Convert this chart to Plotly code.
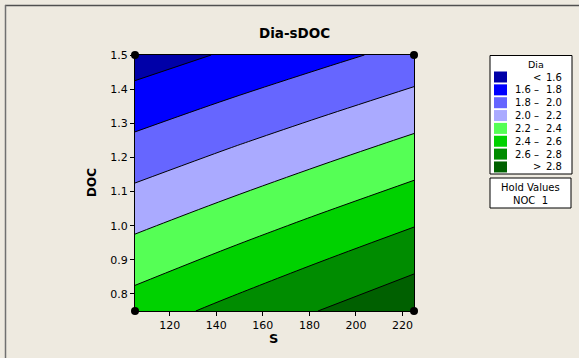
import plotly.graph_objects as go

# ---- data ----
S_vals = [105, 145, 185, 225]
DOC_vals = [0.75, 1.00, 1.25, 1.50]
Dia_vals = [
    [2.500, 2.653, 2.805, 2.958],   # DOC = 0.75
    [2.167, 2.309, 2.451, 2.594],   # DOC = 1.00
    [1.833, 1.966, 2.097, 2.229],   # DOC = 1.25
    [1.500, 1.622, 1.743, 1.865],   # DOC = 1.50
]
levels = [1.6, 1.8, 2.0, 2.2, 2.4, 2.6, 2.8]
band_colors = ["#0000A8", "#0000FF", "#6666FF", "#AAAAFF",
               "#55FF55", "#00D200", "#008C00", "#006000"]
legend_lo = ["", "1.6", "1.8", "2.0", "2.2", "2.4", "2.6", ""]
legend_mid = ["<", "–", "–", "–", "–", "–", "–", ">"]
legend_hi = ["1.6", "1.8", "2.0", "2.2", "2.4", "2.6", "2.8", "2.8"]
design_S = [105, 225, 105, 225]
design_DOC = [1.50, 1.50, 0.75, 0.75]
x_ticks = [120, 140, 160, 180, 200, 220]
y_ticks = [0.8, 0.9, 1.0, 1.1, 1.2, 1.3, 1.4, 1.5]

# ---- layout geometry (pixels) ----
W, H = 579, 358
L, R, T, B = 135, 414, 55, 311
FONT = "DejaVu Sans"
BG = "#EEEAE0"


def px(X):
    return (X - L) / (R - L)


def py(Y):
    return (B - Y) / (B - T)


fig = go.Figure()
fig.add_trace(go.Contour(
    x=S_vals, y=DOC_vals, z=Dia_vals,
    autocontour=False,
    contours=dict(start=levels[0], end=levels[-1],
                  size=round(levels[1] - levels[0], 3), coloring="fill"),
    colorscale=[[i / (len(band_colors) - 1), c] for i, c in enumerate(band_colors)],
    showscale=False,
    line=dict(color="black", width=1),
    hoverinfo="skip",
))
fig.add_trace(go.Scatter(
    x=design_S, y=design_DOC, mode="markers",
    marker=dict(color="black", size=8),
    cliponaxis=False, showlegend=False, hoverinfo="skip",
))

shapes = []
annotations = []

# frame of the picture
shapes.append(dict(type="line", xref="paper", yref="paper",
                   x0=px(5), x1=px(579), y0=py(5.5), y1=py(5.5),
                   line=dict(color="#505050", width=1.5)))
shapes.append(dict(type="line", xref="paper", yref="paper",
                   x0=px(5.5), x1=px(5.5), y0=py(5), y1=py(358),
                   line=dict(color="#707070", width=1.5)))

# legend box
shapes.append(dict(type="rect", xref="paper", yref="paper",
                   x0=px(490), x1=px(572), y0=py(55.5), y1=py(174),
                   line=dict(color="black", width=1), fillcolor="white"))
annotations.append(dict(text="Dia", xref="paper", yref="paper",
                        x=px(536), y=py(64), showarrow=False,
                        xanchor="center", yanchor="middle",
                        font=dict(family=FONT, size=9.5, color="black")))
row0, dy = 77, 12.85
for i, c in enumerate(band_colors):
    yc = row0 + i * dy
    shapes.append(dict(type="rect", xref="paper", yref="paper",
                       x0=px(494), x1=px(507), y0=py(yc - 5.5), y1=py(yc + 5.5),
                       line=dict(width=0), fillcolor=c))
    if legend_lo[i]:
        annotations.append(dict(text=legend_lo[i], xref="paper", yref="paper",
                                x=px(512.5), y=py(yc), showarrow=False,
                                xanchor="left", yanchor="middle",
                                font=dict(family=FONT, size=10, color="black")))
    annotations.append(dict(text=legend_mid[i], xref="paper", yref="paper",
                            x=px(536.5), y=py(yc), showarrow=False,
                            xanchor="center", yanchor="middle",
                            font=dict(family=FONT, size=10, color="black")))
    annotations.append(dict(text=legend_hi[i], xref="paper", yref="paper",
                            x=px(563.5), y=py(yc), showarrow=False,
                            xanchor="right", yanchor="middle",
                            font=dict(family=FONT, size=10, color="black")))

# hold values box
shapes.append(dict(type="rect", xref="paper", yref="paper",
                   x0=px(490), x1=px(571), y0=py(178), y1=py(208),
                   line=dict(color="black", width=1), fillcolor="white"))
annotations.append(dict(text="Hold Values", xref="paper", yref="paper",
                        x=px(530.5), y=py(187), showarrow=False,
                        xanchor="center", yanchor="middle",
                        font=dict(family=FONT, size=10, color="black")))
annotations.append(dict(text="NOC  1", xref="paper", yref="paper",
                        x=px(530.5), y=py(200.5), showarrow=False,
                        xanchor="center", yanchor="middle",
                        font=dict(family=FONT, size=10, color="black")))

# title and axis titles
annotations.append(dict(text="<b>Dia-sDOC</b>", xref="paper", yref="paper",
                        x=px(294), y=py(33), showarrow=False,
                        xanchor="center", yanchor="middle",
                        font=dict(family=FONT, size=13.5, color="black")))
annotations.append(dict(text="<b>S</b>", xref="paper", yref="paper",
                        x=px(273), y=py(338), showarrow=False,
                        xanchor="center", yanchor="middle",
                        font=dict(family=FONT, size=13, color="black")))
annotations.append(dict(text="<b>DOC</b>", xref="paper", yref="paper",
                        x=px(92), y=py(183), showarrow=False, textangle=-90,
                        xanchor="center", yanchor="middle",
                        font=dict(family=FONT, size=12, color="black")))

axis_common = dict(showline=True, linecolor="black", linewidth=1, mirror=True,
                   ticks="outside", ticklen=4, tickcolor="black", tickwidth=1,
                   showgrid=False, zeroline=False,
                   tickfont=dict(family=FONT, size=11, color="black"))

fig.update_layout(
    width=W, height=H,
    margin=dict(l=L, r=W - R, t=T, b=H - B, pad=0),
    paper_bgcolor=BG, plot_bgcolor=BG,
    showlegend=False,
    xaxis=dict(range=[105, 225], tickvals=x_ticks, **axis_common),
    yaxis=dict(range=[0.75, 1.5], tickvals=y_ticks,
               ticktext=[f"{v:.1f}" for v in y_ticks], **axis_common),
    shapes=shapes,
    annotations=annotations,
)

fig.write_html("out.html")
